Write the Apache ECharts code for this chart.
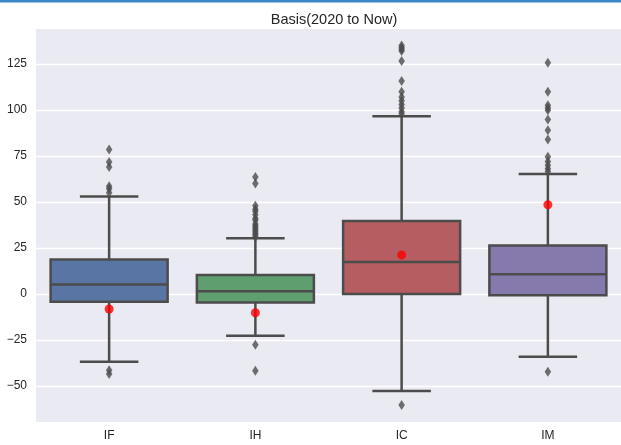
<!DOCTYPE html>
<html>
<head>
<meta charset="utf-8">
<script src="https://cdn.jsdelivr.net/npm/echarts@6/dist/echarts.min.js"></script>
<style>
  html, body { margin: 0; padding: 0; background: #fff; }
  #chart { width: 621px; height: 445px; }
</style>
</head>
<body>
<div id="chart"></div>
<script>
// data
const categories = ['IF', 'IH', 'IC', 'IM'];
// [lower whisker, Q1, median, Q3, upper whisker]
const boxStats = [
  [-36.9, -4.2, 5.2, 18.7, 53.0],
  [-22.7, -4.6, 1.4, 10.3, 30.3],
  [-52.7, 0.0, 17.4, 39.6, 96.6],
  [-34.2, -0.7, 10.7, 26.3, 65.2]
];
const means = [-8.2, -10.2, 21.2, 48.5];
const outliersIF = [78.5, 71.7, 69.0, 58.5, 57.2, 55.0, -41.5, -43.5];
const outliersIH = [63.6, 60.0, 48, 46, 45, 43, 41, 40, 38, 37, 36, 35, 34, 33, 32, 31, -27.6, -41.8];
const outliersIC = [135, 134, 133, 132, 126.6, 115.7, 109.9, 107, 105, 103, 101, 99, 98, -60.3];
const outliersIM = [125.7, 109.9, 102.6, 101, 99.9, 94.8, 89, 83.9, 74.5, 72, 70, 68, 66.5, -42.3];
const yTicks = [-50, -25, 0, 25, 50, 75, 100, 125];

const boxColors = ['#5875a4', '#5f9e6e', '#b55d60', '#857aab'];
const lineColor = '#4c4c4c';

const outlierData = [];
[outliersIF, outliersIH, outliersIC, outliersIM].forEach((list, i) => {
  list.forEach(v => outlierData.push([i, v]));
});

const renderBox = (params, api) => {
  const i = api.value(0);
  const band = api.size([1, 0])[0];
  const half = band * 0.4;
  const cap = band * 0.2;
  const cx = api.coord([i, 0])[0];
  const y = k => api.coord([i, api.value(k)])[1];
  const yMin = y(1), yQ1 = y(2), yMed = y(3), yQ3 = y(4), yMax = y(5);
  const stroke = { stroke: lineColor, lineWidth: 2.5 };
  return {
    type: 'group',
    children: [
      { type: 'line', shape: { x1: cx, y1: yQ3, x2: cx, y2: yMax }, style: stroke },
      { type: 'line', shape: { x1: cx, y1: yQ1, x2: cx, y2: yMin }, style: stroke },
      { type: 'line', shape: { x1: cx - cap, y1: yMax, x2: cx + cap, y2: yMax }, style: stroke },
      { type: 'line', shape: { x1: cx - cap, y1: yMin, x2: cx + cap, y2: yMin }, style: stroke },
      {
        type: 'rect',
        shape: { x: cx - half, y: yQ3, width: half * 2, height: yQ1 - yQ3 },
        style: { fill: boxColors[params.dataIndex], stroke: lineColor, lineWidth: 2.5 }
      },
      { type: 'line', shape: { x1: cx - half, y1: yMed, x2: cx + half, y2: yMed }, style: stroke }
    ]
  };
};

const chart = echarts.init(document.getElementById('chart'), null, { renderer: 'canvas' });

chart.setOption({
  animation: false,
  backgroundColor: '#ffffff',
  textStyle: { fontFamily: 'Liberation Sans, Arial, sans-serif' },
  title: {
    text: 'Basis(2020 to Now)',
    left: 329,
    textAlign: 'center',
    top: 7,
    textStyle: { fontSize: 14.5, fontWeight: 'normal', color: '#262626' }
  },
  graphic: [
    { type: 'rect', left: 0, top: 0, shape: { width: 621, height: 2.5 }, style: { fill: '#3a87c8' } }
  ],
  grid: {
    left: 36, top: 29, right: 0, bottom: 23,
    show: true, backgroundColor: '#eaeaf2', borderWidth: 0
  },
  xAxis: {
    type: 'category',
    data: categories,
    axisLine: { show: false },
    axisTick: { show: false },
    axisLabel: { color: '#262626', fontSize: 12, margin: 8 },
    splitLine: { show: false }
  },
  yAxis: {
    type: 'value',
    min: -69.6,
    max: 144,
    axisLine: { show: false },
    axisTick: { show: false, customValues: yTicks },
    axisLabel: {
      color: '#262626', fontSize: 12, margin: 9, customValues: yTicks,
      formatter: v => String(v).replace('-', '\u2212')
    },
    splitLine: { show: true, lineStyle: { color: '#ffffff', width: 1.3 } }
  },
  series: [
    {
      type: 'custom',
      renderItem: renderBox,
      encode: { x: 0, y: [1, 2, 3, 4, 5] },
      data: boxStats.map((s, i) => [i].concat(s)),
      z: 2
    },
    {
      type: 'scatter',
      data: outlierData,
      symbol: 'path://M3,0L6,5L3,10L0,5Z',
      symbolSize: [6.5, 10],
      itemStyle: { color: lineColor },
      z: 3
    },
    {
      type: 'scatter',
      data: means.map((v, i) => [i, v]),
      symbol: 'circle',
      symbolSize: 9,
      itemStyle: { color: '#ff0000' },
      z: 4
    }
  ]
});
</script>
</body>
</html>
